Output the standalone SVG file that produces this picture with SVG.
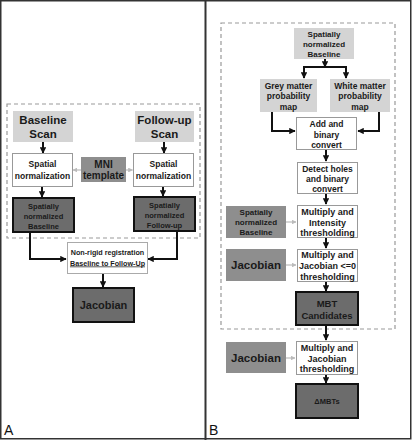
<svg xmlns="http://www.w3.org/2000/svg" width="412" height="440" viewBox="0 0 412 440">
<style>
text{font-family:"Liberation Sans",Arial,sans-serif;font-weight:bold;fill:#1a1a1a;text-anchor:middle}
.lt{fill:#d4d4d4;stroke:none}
.md{fill:#8e8e8e;stroke:none}
.dk{fill:#6c6c6c;stroke:#111;stroke-width:2}
.wh{fill:#fff;stroke:#999;stroke-width:1}
.ar{fill:none;stroke:#111;stroke-width:2;marker-end:url(#ah)}
.ga{fill:none;stroke:#bbb;stroke-width:1.2;marker-end:url(#gh)}
.dash{fill:none;stroke:#999;stroke-width:1.2;stroke-dasharray:4 3}
.lbl{font-weight:normal;font-size:14px;text-anchor:start;fill:#111}
</style>
<defs>
<marker id="ah" viewBox="0 0 10 10" refX="9" refY="5" markerWidth="3.2" markerHeight="3.2" orient="auto" markerUnits="strokeWidth"><path d="M0,0L10,5L0,10z" fill="#111"/></marker>
<marker id="gh" viewBox="0 0 10 10" refX="9" refY="5" markerWidth="4" markerHeight="4" orient="auto" markerUnits="strokeWidth"><path d="M0,0L10,5L0,10z" fill="#bbb"/></marker>
</defs>
<rect x="0" y="0" width="412" height="440" fill="#fff"/>
<g id="frame">
<rect x="0.75" y="0.75" width="410" height="438" fill="none" stroke="#333" stroke-width="1.5"/>
<line x1="205.5" y1="0" x2="205.5" y2="440" stroke="#333" stroke-width="2"/>
<rect class="dash" x="7" y="104" width="193" height="134"/>
<rect class="dash" x="221" y="23" width="174" height="306"/>
<text class="lbl" x="4" y="435">A</text>
<text class="lbl" x="209" y="435">B</text>
</g>
<g id="connectors">
<line class="ar" x1="43" y1="142" x2="43" y2="153"/>
<line class="ar" x1="164" y1="142" x2="164" y2="153"/>
<line class="ga" x1="81" y1="170" x2="73" y2="170"/>
<line class="ga" x1="126" y1="170" x2="132.5" y2="170"/>
<line class="ar" x1="42" y1="186" x2="42" y2="197"/>
<line class="ar" x1="163" y1="186" x2="163" y2="196"/>
<path class="ar" d="M30 232V259H66"/>
<path class="ar" d="M177 231V259H148"/>
<line class="ar" x1="103" y1="273" x2="103" y2="287"/>
<line class="ar" x1="325" y1="59" x2="325" y2="67"/>
<path fill="none" stroke="#111" stroke-width="2" d="M304 67H346"/>
<line class="ar" x1="304" y1="66" x2="304" y2="78"/>
<line class="ar" x1="346" y1="66" x2="346" y2="78"/>
<path class="ar" d="M272 112V131H295"/>
<path class="ar" d="M379 112V131H358"/>
<line class="ar" x1="326" y1="149" x2="326" y2="161"/>
<line class="ar" x1="326" y1="193" x2="326" y2="204"/>
<line class="ga" x1="286" y1="222" x2="296" y2="222"/>
<line class="ar" x1="326" y1="237" x2="326" y2="248"/>
<line class="ga" x1="286" y1="265" x2="296" y2="265"/>
<line class="ar" x1="326" y1="281" x2="326" y2="291"/>
<line class="ar" x1="326" y1="326" x2="326" y2="340"/>
<line class="ga" x1="286" y1="358" x2="295" y2="358"/>
<line class="ar" x1="326" y1="374" x2="326" y2="383"/>
</g>
<g id="a-baseline-scan"><rect class="lt" x="13" y="111" width="60" height="31"/><text x="43" y="124" font-size="11.5">Baseline</text><text x="43" y="138" font-size="11.5">Scan</text></g>
<g id="a-followup-scan"><rect class="lt" x="135" y="111" width="59" height="31"/><text x="164.5" y="124" font-size="11.5">Follow-up</text><text x="164.5" y="138" font-size="11.5">Scan</text></g>
<g id="a-spatial-left"><rect class="wh" x="12.5" y="153.5" width="60" height="33"/><text x="42.5" y="167" font-size="8.5">Spatial</text><text x="42.5" y="179" font-size="8.5">normalization</text></g>
<g id="a-mni"><rect class="md" x="81" y="157" width="45" height="25"/><text x="103.5" y="168" font-size="10">MNI</text><text x="103.5" y="179" font-size="10">template</text></g>
<g id="a-spatial-right"><rect class="wh" x="133.5" y="153.5" width="60" height="33"/><text x="163.5" y="167" font-size="8.5">Spatial</text><text x="163.5" y="179" font-size="8.5">normalization</text></g>
<g id="a-snb"><rect class="dk" x="13" y="198" width="61" height="34"/><text x="43.5" y="208.5" font-size="7.5">Spatially</text><text x="43.5" y="218.5" font-size="7.5">normalized</text><text x="43.5" y="228.5" font-size="7.5">Baseline</text></g>
<g id="a-snf"><rect class="dk" x="134" y="197" width="61" height="34"/><text x="164.5" y="207.5" font-size="7.5">Spatially</text><text x="164.5" y="217.5" font-size="7.5">normalized</text><text x="164.5" y="227.5" font-size="7.5">Follow-up</text></g>
<g id="a-nonrigid"><rect x="67.5" y="242.5" width="80" height="31" fill="#fff" stroke="#aaa"/><text x="107.5" y="255" font-size="7.2">Non-rigid registration</text><text x="107.5" y="265.5" font-size="7.2" text-decoration="underline">Baseline to Follow-Up</text></g>
<g id="a-jacobian"><rect class="dk" x="73" y="288" width="61" height="34"/><text x="103.5" y="309" font-size="11">Jacobian</text></g>
<g id="b-snb-top"><rect class="lt" x="294" y="28" width="60" height="31"/><text x="324" y="36.5" font-size="8">Spatially</text><text x="324" y="46.5" font-size="8">normalized</text><text x="324" y="56.5" font-size="8">Baseline</text></g>
<g id="b-grey"><rect class="lt" x="260" y="79" width="57" height="33"/><text x="288.5" y="88.5" font-size="8.5">Grey matter</text><text x="288.5" y="99" font-size="8.5">probability</text><text x="288.5" y="110" font-size="8.5">map</text></g>
<g id="b-white"><rect class="lt" x="330" y="79" width="60" height="33"/><text x="360" y="88.5" font-size="8.5">White matter</text><text x="360" y="99" font-size="8.5">probability</text><text x="360" y="110" font-size="8.5">map</text></g>
<g id="b-add"><rect class="wh" x="296.5" y="117.5" width="60" height="32"/><text x="326.5" y="127" font-size="8.5">Add and</text><text x="326.5" y="137.5" font-size="8.5">binary</text><text x="326.5" y="148" font-size="8.5">convert</text></g>
<g id="b-detect"><rect class="wh" x="297.5" y="162.5" width="60" height="31"/><text x="327.5" y="171.5" font-size="8.5">Detect holes</text><text x="327.5" y="181.5" font-size="8.5">and binary</text><text x="327.5" y="191.5" font-size="8.5">convert</text></g>
<g id="b-intensity"><rect class="wh" x="297.5" y="205.5" width="60" height="32"/><text x="327.5" y="214.5" font-size="9">Multiply and</text><text x="327.5" y="225.5" font-size="9">Intensity</text><text x="327.5" y="236" font-size="9">thresholding</text></g>
<g id="b-snb-mid"><rect class="md" x="226" y="206" width="60" height="32"/><text x="256" y="215" font-size="8">Spatially</text><text x="256" y="225" font-size="8">normalized</text><text x="256" y="235" font-size="8">Baseline</text></g>
<g id="b-jac-thr0"><rect class="wh" x="297.5" y="249.5" width="60" height="32"/><text x="327.5" y="257.5" font-size="9">Multiply and</text><text x="327.5" y="268.5" font-size="9">Jacobian &lt;=0</text><text x="327.5" y="279.5" font-size="9">thresholding</text></g>
<g id="b-jacobian1"><rect class="md" x="226" y="249" width="60" height="32"/><text x="256" y="269" font-size="11.5">Jacobian</text></g>
<g id="b-mbt"><rect class="dk" x="296" y="292" width="62" height="33"/><text x="327" y="307" font-size="9.5">MBT</text><text x="327" y="318.5" font-size="9.5">Candidates</text></g>
<g id="b-jac-thr"><rect class="wh" x="296.5" y="341.5" width="61" height="33"/><text x="327" y="350.5" font-size="9">Multiply and</text><text x="327" y="361.5" font-size="9">Jacobian</text><text x="327" y="372" font-size="9">thresholding</text></g>
<g id="b-jacobian2"><rect class="md" x="226" y="342" width="60" height="31"/><text x="256" y="362" font-size="11.5">Jacobian</text></g>
<g id="b-dmbts"><rect class="dk" x="296" y="384" width="62" height="34"/><text x="327" y="404" font-size="7.5" fill="#2a2a2a">ΔMBTs</text></g>
</svg>
